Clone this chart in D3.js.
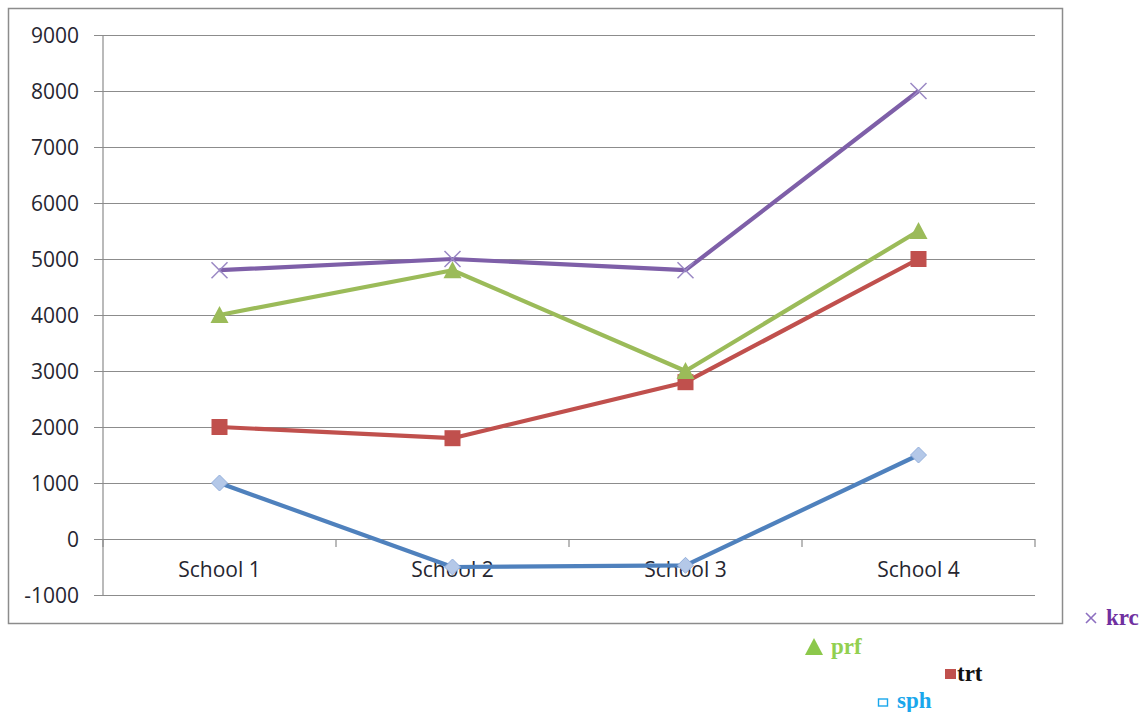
<!DOCTYPE html>
<html>
<head>
<meta charset="utf-8">
<script src="https://cdn.jsdelivr.net/npm/d3@7/dist/d3.min.js"></script>
<style>
  body { margin: 0; background: #fff; }
  svg { display: block; }
  .axis text { font-family: "Open Sans", "Liberation Sans", sans-serif; font-size: 21px; fill: #262630; }
  .legend text { font-family: "Liberation Serif", "DejaVu Serif", serif; font-weight: bold; font-size: 23px; }
</style>
</head>
<body>
<div id="chart"></div>
<script>
// ---------------- data ----------------
var schools = ["School 1", "School 2", "School 3", "School 4"];
var yTicks = [-1000, 0, 1000, 2000, 3000, 4000, 5000, 6000, 7000, 8000, 9000];
var sph = [1000, -500, -470, 1500];
var trt = [2000, 1800, 2800, 5000];
var prf = [4000, 4800, 3000, 5500];
var krc = [4800, 5000, 4800, 8000];

// series drawn in excel order (first one at the bottom)
var series = [
  {name: "sph", values: sph, color: "#4F81BD", marker: "diamond"},
  {name: "trt", values: trt, color: "#C0504D", marker: "square"},
  {name: "prf", values: prf, color: "#9BBB59", marker: "triangle"},
  {name: "krc", values: krc, color: "#7E5FA8", marker: "cross"}
];

// stray legend entries sitting below the frame
var legendItems = [
  {name: "krc", symbol: "cross", color: "#7030A0", symColor: "#8d6fc0", sx: 1091, tx: 1106, y: 625},
  {name: "prf", symbol: "triangle", color: "#92D050", symColor: "#8CC84B", sx: 814, tx: 831, y: 654},
  {name: "trt", symbol: "square", color: "#111", symColor: "#C0504D", sx: 951, tx: 957, y: 681},
  {name: "sph", symbol: "box", color: "#1AA7EC", symColor: "#1AA7EC", sx: 883, tx: 897, y: 708}
];

// ---------------- layout ----------------
var W = 1141, H = 712;
var plot = {left: 103, right: 1035, top: 35, bottom: 595};

var svg = d3.select("#chart").append("svg")
    .attr("width", W).attr("height", H);

// chart frame
svg.append("rect")
    .attr("x", 8.5).attr("y", 8.5)
    .attr("width", 1054).attr("height", 615)
    .attr("fill", "#fff").attr("stroke", "#8c8c8c").attr("stroke-width", 1.5);

var x = d3.scaleBand().domain(schools).range([plot.left, plot.right]).padding(0);
var y = d3.scaleLinear().domain([-1000, 9000]).range([plot.bottom, plot.top]);

// y axis + gridlines
var yAxis = d3.axisLeft(y)
    .tickValues(yTicks)
    .tickFormat(function(d) { return String(d); })
    .tickSize(-(plot.right - plot.left + 9))
    .tickPadding(15);

var yg = svg.append("g")
    .attr("class", "axis")
    .attr("transform", "translate(" + (plot.left - 9) + ",0)")
    .call(yAxis);
yg.select(".domain").remove();
yg.selectAll(".tick line").attr("stroke", "#8c8c8c").attr("stroke-width", 1.2);
yg.selectAll(".tick text").attr("dy", "0.35em");

svg.append("line")
    .attr("x1", plot.left).attr("x2", plot.left)
    .attr("y1", plot.top).attr("y2", plot.bottom)
    .attr("stroke", "#8c8c8c").attr("stroke-width", 1.2);

// category axis sits on zero
var xAxis = d3.axisBottom(x).tickSize(0).tickPadding(23);
var xg = svg.append("g")
    .attr("class", "axis")
    .attr("transform", "translate(0," + y(0) + ")")
    .call(xAxis);
xg.select(".domain").remove();

// boundary tick marks between categories
var bounds = schools.map(function(s) { return x(s); }).concat([plot.right]);
svg.append("g").selectAll("line")
    .data(bounds)
    .enter().append("line")
    .attr("x1", function(d) { return d; })
    .attr("x2", function(d) { return d; })
    .attr("y1", y(0)).attr("y2", y(0) + 8)
    .attr("stroke", "#8c8c8c").attr("stroke-width", 1.2);

// ---------------- series ----------------
var cx = function(i) { return x(schools[i]) + x.bandwidth() / 2; };
var line = d3.line()
    .x(function(d, i) { return cx(i); })
    .y(function(d) { return y(d); });

series.forEach(function(s) {
  var g = svg.append("g").attr("class", "series-" + s.name);
  g.append("path")
      .datum(s.values)
      .attr("d", line)
      .attr("fill", "none")
      .attr("stroke", s.color)
      .attr("stroke-width", 4.2)
      .attr("stroke-linejoin", "round");

  var m = g.selectAll(".marker")
      .data(s.values)
      .enter().append("g")
      .attr("class", "marker")
      .attr("transform", function(d, i) { return "translate(" + cx(i) + "," + y(d) + ")"; });

  if (s.marker == "diamond") {
    m.append("path")
        .attr("d", "M0,-8L8,0L0,8L-8,0Z")
        .attr("fill", "#b4c8e8").attr("stroke", "#93afdc").attr("stroke-width", 1);
  } else if (s.marker == "square") {
    m.append("rect")
        .attr("x", -8).attr("y", -8).attr("width", 16).attr("height", 16)
        .attr("fill", s.color);
  } else if (s.marker == "triangle") {
    m.append("path")
        .attr("d", "M0,-9L9,8L-9,8Z")
        .attr("fill", s.color);
  } else {
    m.append("path")
        .attr("d", "M-8,-8L8,8M-8,8L8,-8")
        .attr("stroke", "#9a88c4").attr("stroke-width", 1.5);
  }
});

// ---------------- legend ----------------
var lg = svg.append("g").attr("class", "legend");
legendItems.forEach(function(d) {
  var sy = d.y - 7;
  if (d.symbol == "cross") {
    lg.append("path")
        .attr("d", "M" + (d.sx - 5) + "," + (sy - 5) + "l10,10m-10,0l10,-10")
        .attr("stroke", d.symColor).attr("stroke-width", 1.6);
  } else if (d.symbol == "triangle") {
    lg.append("path")
        .attr("d", "M" + d.sx + "," + (sy - 9) + "l9,17h-18Z")
        .attr("fill", d.symColor);
  } else if (d.symbol == "square") {
    lg.append("rect")
        .attr("x", d.sx - 6).attr("y", sy - 5).attr("width", 11).attr("height", 10)
        .attr("fill", d.symColor);
  } else {
    lg.append("rect")
        .attr("x", d.sx - 4.5).attr("y", sy - 2).attr("width", 9).attr("height", 7)
        .attr("fill", "none").attr("stroke", d.symColor).attr("stroke-width", 1.4);
  }
  lg.append("text")
      .attr("x", d.tx).attr("y", d.y)
      .attr("fill", d.color)
      .text(d.name);
});
</script>
</body>
</html>
